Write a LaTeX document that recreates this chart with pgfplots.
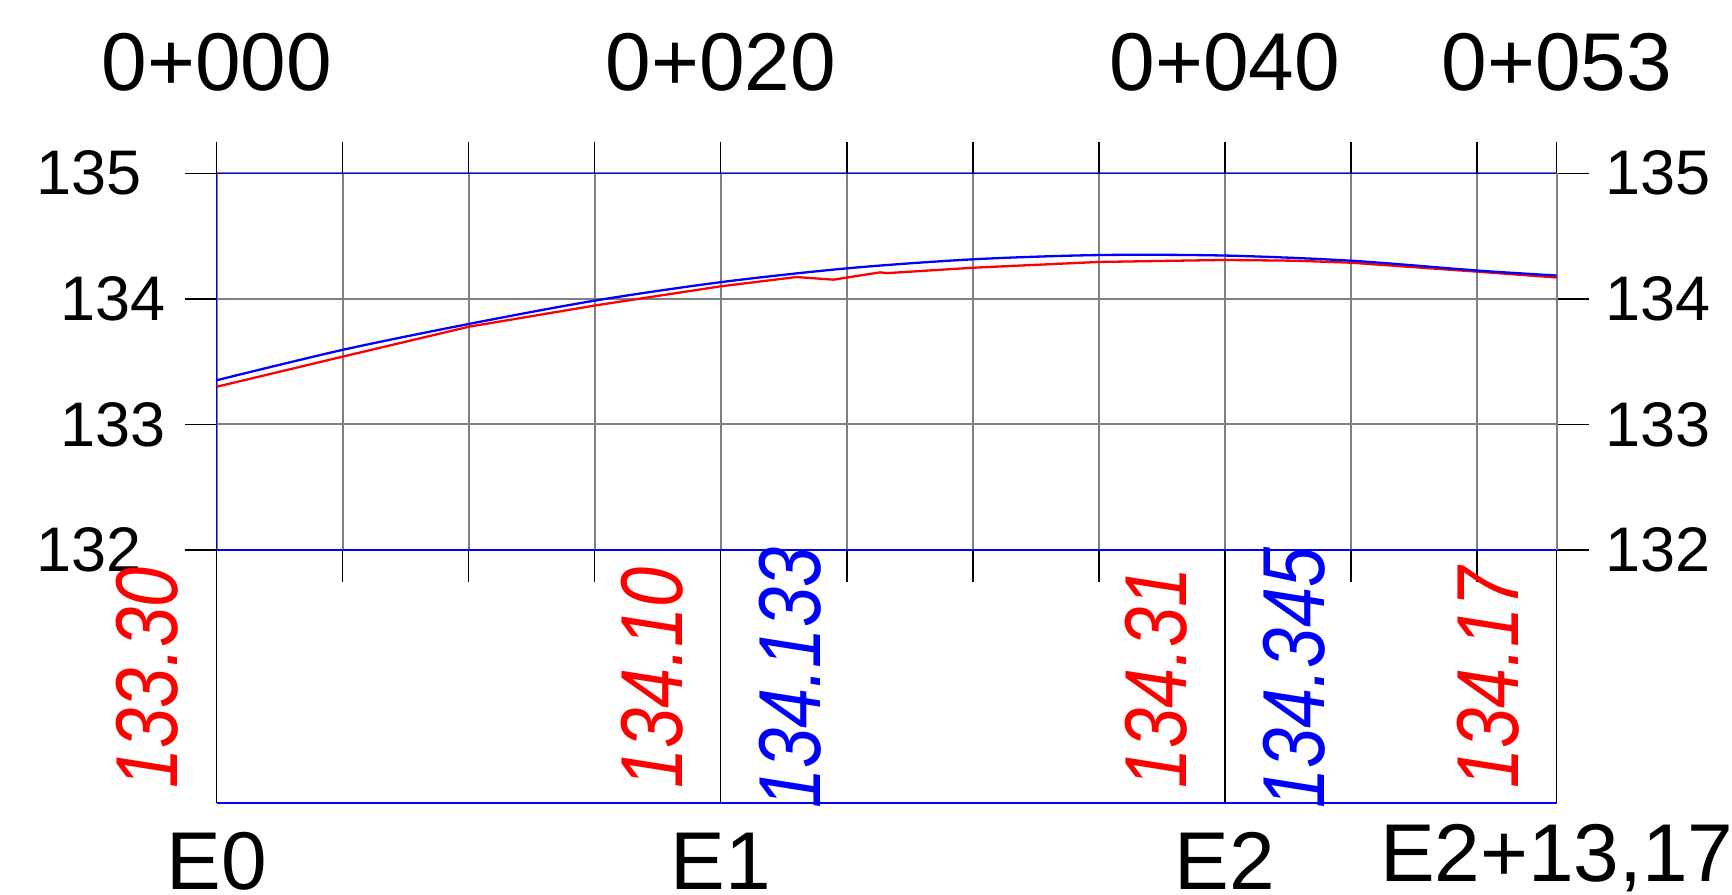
\documentclass[border=0pt]{standalone}
\usepackage{graphicx}
\usepackage{pgfplots}
\pgfplotsset{compat=1.18}
\usepackage{fontspec}
\setmainfont{Liberation Sans}
\definecolor{gridgray}{RGB}{128,128,128}
\definecolor{pred}{RGB}{255,0,0}
\definecolor{pblue}{RGB}{0,0,255}

\pgfplotstableread{
x y
0 133.300
5 133.540
10 133.778
15 133.947
20 134.100
23.0 134.174
24.47 134.153
26.32 134.211
26.6 134.205
30 134.248
35 134.294
40 134.310
42.8 134.304
45 134.288
50 134.217
53.17 134.170
}\terrain

\pgfplotstableread{
x y
0 133.352
5 133.594
10 133.800
15 133.986
20 134.133
25 134.243
30 134.315
35 134.349
40 134.345
45 134.304
50 134.226
53.17 134.186
}\design

\tikzset{
  bigtxt/.style={inner sep=0pt, font=\fontsize{41}{41}\selectfont},
  eltxt/.style={anchor=west, inner sep=0pt, font=\fontsize{31.5}{31.5}\selectfont},
  rottxt/.style={rotate=90, inner sep=0pt, font=\fontsize{44}{44}\selectfont\itshape},
  bandline/.style={black, line width=0.75pt},
}

\begin{document}
\begin{tikzpicture}
\begin{axis}[
  scale only axis, width=670pt, height=188.35pt,
  xmin=0, xmax=53.17, ymin=132, ymax=135,
  xtick={0,5,...,50},
  extra x ticks={53.17}, extra x tick labels={},
  xticklabels={},
  ytick={132,133,134,135},
  yticklabels={{132\rule{12.2pt}{0pt}},{133},{134},{135\rule{12.2pt}{0pt}}},
  xtick pos=both, ytick pos=both, yticklabel pos=left,
  tick align=outside,
  major tick length=15.9pt,
  tick style={black, line width=0.75pt},
  grid=major,
  major grid style={gridgray, line width=1pt},
  axis line style={pblue, line width=0.75pt},
  yticklabel style={font=\fontsize{31.5}{31.5}\selectfont, anchor=east, inner sep=0pt},
  yticklabel shift=9.4pt,
  clip=false,
]
\coordinate (plotsw) at (rel axis cs:0,0);
\coordinate (plotne) at (rel axis cs:1,1);

\addplot[pred, line width=1.15pt, no marks] table[x=x, y=y] {\terrain};
\addplot[pblue, line width=1.15pt, no marks, smooth] table[x=x, y=y] {\design};

% lower band
\draw[bandline] (axis cs:0,132) -- ([yshift=-126.5pt]axis cs:0,132);
\draw[bandline] (axis cs:20,132) -- ([yshift=-126.5pt]axis cs:20,132);
\draw[bandline] (axis cs:40,132) -- ([yshift=-126.5pt]axis cs:40,132);
\draw[bandline] (axis cs:53.17,132) -- ([yshift=-126.5pt]axis cs:53.17,132);
\draw[pblue, line width=0.75pt] ([yshift=-126.5pt]axis cs:0,132) -- ([yshift=-126.5pt]axis cs:53.17,132);

% top chainage labels
\node[bigtxt, anchor=base] at ([yshift=41.3pt]axis cs:0,135) {0+000};
\node[bigtxt, anchor=base] at ([yshift=41.3pt]axis cs:20,135) {0+020};
\node[bigtxt, anchor=base] at ([yshift=41.3pt]axis cs:40,135) {0+040};
\node[bigtxt, anchor=base] at ([yshift=41.3pt]axis cs:53.17,135) {0+053};

% bottom station labels
\node[bigtxt, anchor=base] at ([yshift=-169.8pt]axis cs:0,132) {E0};
\node[bigtxt, anchor=base] at ([yshift=-169.8pt]axis cs:20,132) {E1};
\node[bigtxt, anchor=base] at ([yshift=-169.8pt]axis cs:40,132) {E2};
\node[bigtxt, anchor=base] at ([yshift=-165.85pt]axis cs:53.17,132) {E2+13,17};

% right elevation labels
\node[eltxt] at ([xshift=24.3pt]axis cs:53.17,132) {132};
\node[eltxt] at ([xshift=24.3pt]axis cs:53.17,133) {133};
\node[eltxt] at ([xshift=24.3pt]axis cs:53.17,134) {134};
\node[eltxt] at ([xshift=24.3pt]axis cs:53.17,135) {135};

% rotated elevation values
\node[rottxt, pred] at ([xshift=-34.5pt, yshift=-64pt]axis cs:0,132) {\scalebox{0.82}[1]{133.30}};
\node[rottxt, pred] at ([xshift=-34.5pt, yshift=-64pt]axis cs:20,132) {\scalebox{0.82}[1]{134.10}};
\node[rottxt, pred] at ([xshift=-34.5pt, yshift=-64pt]axis cs:40,132) {\scalebox{0.82}[1]{134.31}};
\node[rottxt, pred] at ([xshift=-34.5pt, yshift=-64pt]axis cs:53.17,132) {\scalebox{0.82}[1]{134.17}};
\node[rottxt, pblue] at ([xshift=34.5pt, yshift=-64pt]axis cs:20,132) {\scalebox{0.82}[1]{134.133}};
\node[rottxt, pblue] at ([xshift=34.5pt, yshift=-64pt]axis cs:40,132) {\scalebox{0.82}[1]{134.345}};
\end{axis}
\pgfresetboundingbox
\path[use as bounding box] ([shift={(-108.35pt,-172.5pt)}]plotsw) rectangle ([shift={(87.65pt,86.65pt)}]plotne);
\end{tikzpicture}
\end{document}
